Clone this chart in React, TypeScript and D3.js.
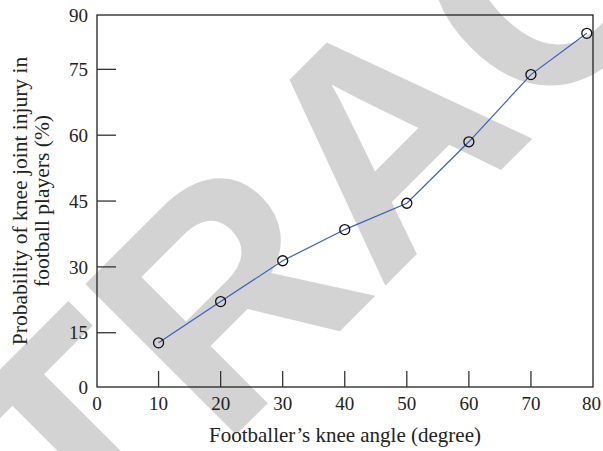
import React from "react";
import * as d3 from "d3";

const angles = [10, 20, 30, 40, 50, 60, 70, 79];
const probabilities = [12.7, 22.1, 31.4, 38.5, 44.5, 58.5, 73.8, 83.2];
const xTickValues = [0, 10, 20, 30, 40, 50, 60, 70, 80];
const yTickValues = [0, 15, 30, 45, 60, 75, 90];
const xTitle = "Footballer\u2019s knee angle (degree)";
const yTitleLines = ["Probability of knee joint injury in", "football players (%)"];
const watermark = "RETRACTED";

const W = 603;
const H = 451;
const frame = { left: 97, right: 593, top: 15, bottom: 387 };

export default function App() {
  const x = d3.scaleLinear().domain([0, 80]).range([96.5, 593]);
  const y = d3.scaleLinear().domain([0, 90]).range([398.6, 3.5]);
  const line = d3
    .line<number>()
    .x((_, i) => x(angles[i]))
    .y((d) => y(d));
  const serif = "'Liberation Serif', 'Times New Roman', serif";
  const tickColor = "#333";
  const yLabelPos = (v: number) =>
    v === 0 ? frame.bottom : v === 90 ? frame.top : y(v);

  return (
    <svg
      width={W}
      height={H}
      style={{ position: "absolute", left: 0, top: 0, background: "#fff" }}
    >
      <rect x={0} y={0} width={W} height={H} fill="#fff" />
      <text
        transform="translate(459,212) rotate(-45)"
        textAnchor="middle"
        fontFamily="'Liberation Sans', Arial, sans-serif"
        fontWeight="bold"
        fontSize={310}
        fill="#d3d3d3"
      >
        {watermark}
      </text>

      {/* frame */}
      <rect
        x={frame.left}
        y={frame.top}
        width={frame.right - frame.left}
        height={frame.bottom - frame.top}
        fill="none"
        stroke="#222"
        strokeWidth={1.3}
      />

      {/* x ticks */}
      {xTickValues
        .filter((v) => v > 0 && v < 80)
        .map((v) => (
          <line
            key={"xt" + v}
            x1={x(v)}
            x2={x(v)}
            y1={frame.bottom}
            y2={frame.bottom - 16}
            stroke={tickColor}
            strokeWidth={1.3}
          />
        ))}
      {xTickValues.map((v) => (
        <text
          key={"xl" + v}
          x={v === 0 ? frame.left : v === 80 ? frame.right - 1.5 : x(v)}
          y={410}
          textAnchor="middle"
          fontFamily={serif}
          fontSize={19}
          fill="#222"
        >
          {v}
        </text>
      ))}

      {/* y ticks */}
      {yTickValues
        .filter((v) => v > 0 && v < 90)
        .map((v) => (
          <line
            key={"yt" + v}
            x1={frame.left}
            x2={frame.left + 19}
            y1={y(v)}
            y2={y(v)}
            stroke={tickColor}
            strokeWidth={1.3}
          />
        ))}
      {yTickValues.map((v) => (
        <text
          key={"yl" + v}
          x={88}
          y={yLabelPos(v)}
          dy="0.35em"
          textAnchor="end"
          fontFamily={serif}
          fontSize={19}
          fill="#222"
        >
          {v}
        </text>
      ))}

      {/* series */}
      <path
        d={line(probabilities) || ""}
        fill="none"
        stroke="#3a5fbf"
        strokeWidth={1.2}
      />
      {probabilities.map((p, i) => (
        <circle
          key={"pt" + i}
          cx={x(angles[i])}
          cy={y(p)}
          r={5}
          fill="none"
          stroke="#111"
          strokeWidth={1.3}
        />
      ))}

      {/* titles */}
      <text
        x={(frame.left + frame.right) / 2}
        y={442}
        textAnchor="middle"
        fontFamily={serif}
        fontSize={21}
        fill="#222"
      >
        {xTitle}
      </text>
      {yTitleLines.map((t, i) => (
        <text
          key={"ytl" + i}
          transform={`translate(${27 + i * 22},${(frame.top + frame.bottom) / 2}) rotate(-90)`}
          textAnchor="middle"
          fontFamily={serif}
          fontSize={21.5}
          fill="#222"
        >
          {t}
        </text>
      ))}
    </svg>
  );
}
